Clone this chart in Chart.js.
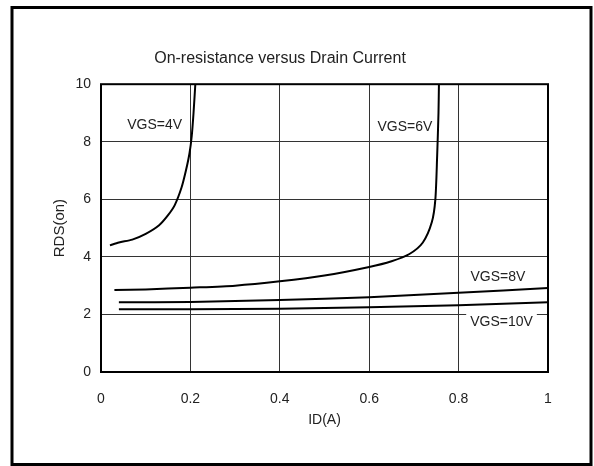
<!DOCTYPE html>
<html>
<head>
<meta charset="utf-8">
<script src="https://cdn.jsdelivr.net/npm/chart.js@4/dist/chart.umd.min.js"></script>
<style>
  html, body { margin: 0; padding: 0; background: #fff; }
  #wrap { width: 594px; height: 466px; position: relative; }
</style>
</head>
<body>
<div id="wrap"><canvas id="myChart"></canvas></div>
<script>
// ID(A) and RDS(on)
var vgs4X = [0.02, 0.04, 0.07, 0.10, 0.13, 0.15, 0.165, 0.18, 0.19, 0.198, 0.203, 0.207, 0.211];
var vgs4Y = [4.40, 4.50, 4.60, 4.80, 5.10, 5.45, 5.80, 6.40, 7.00, 7.60, 8.20, 9.00, 10.0];

var vgs6X = [0.03, 0.10, 0.20, 0.30, 0.40, 0.50, 0.60, 0.65, 0.69, 0.72, 0.74, 0.748, 0.752, 0.755, 0.756];
var vgs6Y = [2.85, 2.87, 2.93, 3.00, 3.15, 3.35, 3.65, 3.85, 4.10, 4.50, 5.20, 6.00, 7.50, 9.00, 10.0];

var vgs8X = [0.04, 0.20, 0.40, 0.60, 0.80, 1.00];
var vgs8Y = [2.42, 2.43, 2.50, 2.60, 2.75, 2.92];

var vgs10X = [0.04, 0.20, 0.40, 0.60, 0.80, 1.00];
var vgs10Y = [2.18, 2.18, 2.20, 2.25, 2.32, 2.42];

var seriesNames = ['VGS=4V', 'VGS=6V', 'VGS=8V', 'VGS=10V'];

function toPoints(xs, ys) {
  return xs.map(function (x, i) { return { x: x, y: ys[i] }; });
}

var FONT = "'Liberation Sans', Arial, sans-serif";

// curve captions, in data units
var captions = [
  { text: 'VGS=4V', x: 0.12, y: 8.58, bg: false },
  { text: 'VGS=6V', x: 0.68, y: 8.50, bg: false },
  { text: 'VGS=8V', x: 0.888, y: 3.30, bg: false },
  { text: 'VGS=10V', x: 0.896, y: 1.74, bg: true }
];

const framePlugin = {
  id: 'frame',
  beforeDraw(chart) {
    const c = chart.ctx;
    c.save();
    c.fillStyle = '#fff';
    c.fillRect(0, 0, chart.width, chart.height);
    c.restore();
  },
  afterDraw(chart) {
    const c = chart.ctx;
    const a = chart.chartArea;
    c.save();
    c.strokeStyle = '#000';
    c.lineWidth = 2;
    c.strokeRect(a.left, a.top, a.right - a.left, a.bottom - a.top);
    c.lineWidth = 3;
    c.strokeRect(12, 7.5, 579, 457);
    c.font = '14px ' + FONT;
    c.textAlign = 'center';
    c.textBaseline = 'middle';
    captions.forEach(function (cap) {
      const px = chart.scales.x.getPixelForValue(cap.x);
      const py = chart.scales.y.getPixelForValue(cap.y);
      if (cap.bg) {
        const w = c.measureText(cap.text).width;
        c.fillStyle = '#fff';
        c.fillRect(px - w / 2 - 4, py - 9, w + 8, 18);
      }
      c.fillStyle = '#222';
      c.fillText(cap.text, px, py);
    });
    c.restore();
  }
};

function renderChart() {
  const ctx = document.getElementById('myChart');
  const lineStyle = {
    borderColor: '#000',
    borderWidth: 2,
    pointRadius: 0,
    tension: 0.25,
    fill: false
  };

  const config = {
    type: 'line',
    data: {
      datasets: [
        Object.assign({ label: seriesNames[0], data: toPoints(vgs4X, vgs4Y) }, lineStyle),
        Object.assign({ label: seriesNames[1], data: toPoints(vgs6X, vgs6Y) }, lineStyle),
        Object.assign({ label: seriesNames[2], data: toPoints(vgs8X, vgs8Y) }, lineStyle, { tension: 0.1 }),
        Object.assign({ label: seriesNames[3], data: toPoints(vgs10X, vgs10Y) }, lineStyle, { tension: 0.1 })
      ]
    },
    options: {
      responsive: true,
      maintainAspectRatio: false,
      animation: false,
      layout: {
        padding: { left: 12, right: 46, top: 0, bottom: 0 }
      },
      scales: {
        x: {
          type: 'linear',
          min: 0,
          max: 1,
          afterFit: s => { s.height = 94; },
          grid: { color: '#333', lineWidth: 1, drawTicks: false },
          border: { display: false },
          ticks: {
            stepSize: 0.2,
            padding: 19,
            color: '#222',
            font: { family: FONT, size: 14 },
            callback: v => String(+v.toFixed(1))
          },
          title: {
            display: true,
            text: 'ID(A)',
            color: '#222',
            font: { family: FONT, size: 14 },
            padding: { top: 0, bottom: 37 }
          }
        },
        y: {
          min: 0,
          max: 10,
          afterFit: s => { s.width = 89; },
          grid: { color: '#333', lineWidth: 1, drawTicks: false },
          border: { display: false },
          ticks: {
            stepSize: 2,
            padding: 10,
            color: '#222',
            font: { family: FONT, size: 14 }
          },
          title: {
            display: true,
            text: 'RDS(on)',
            color: '#222',
            font: { family: FONT, size: 15 },
            padding: { top: 39, bottom: 0 }
          }
        }
      },
      plugins: {
        legend: { display: false },
        tooltip: { enabled: false },
        title: {
          display: true,
          text: 'On-resistance versus Drain Current',
          color: '#222',
          font: { family: FONT, size: 16, weight: 'normal' },
          padding: { top: 49, bottom: 16 }
        }
      }
    },
    plugins: [framePlugin]
  };
  new Chart(ctx, config);
}

renderChart();
</script>
</body>
</html>
